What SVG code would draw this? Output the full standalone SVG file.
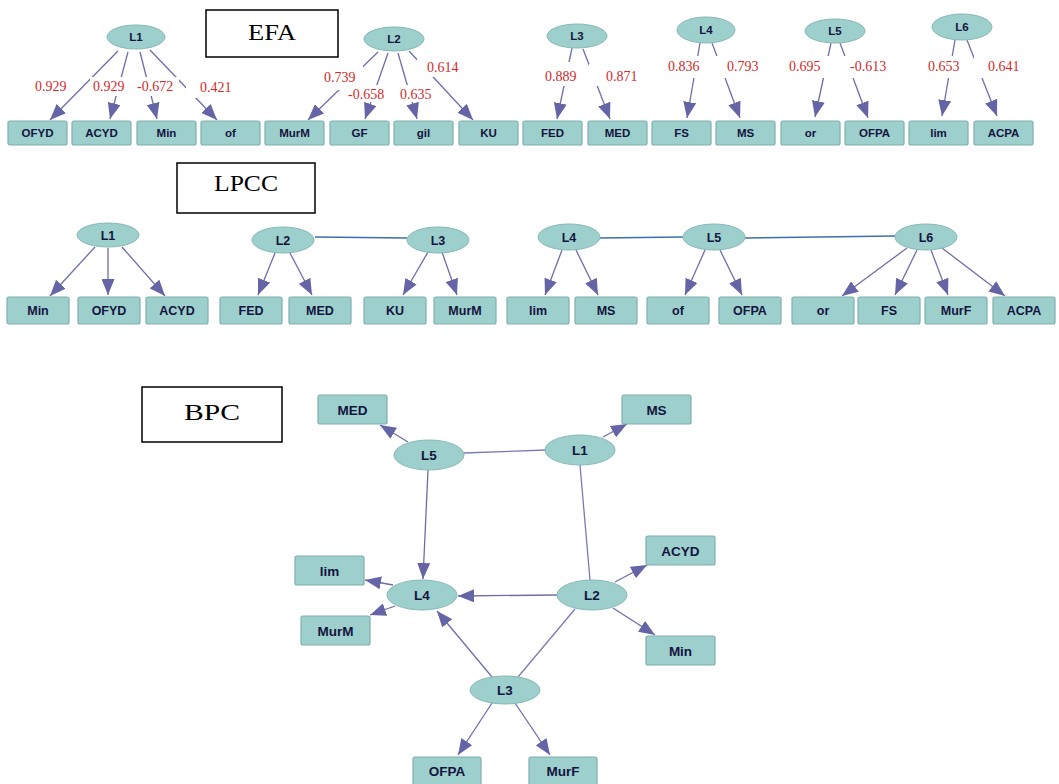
<svg xmlns="http://www.w3.org/2000/svg" width="1059" height="784" viewBox="0 0 1059 784">
  <style>
    .box { fill: #9dcfcd; stroke: #7fb0ae; stroke-width: 1.2; }
    .lat { fill: #9dcfcd; stroke: #86b8b6; stroke-width: 1; }
    .nt { font-family: "Liberation Sans", Arial, sans-serif; font-weight: bold; fill: #141440; text-anchor: middle; }
    .s1 { font-size: 11.5px; }
    .s2 { font-size: 12.5px; }
    .s3 { font-size: 13.5px; }
    .edge { stroke: #6e6eaa; stroke-width: 1.3; fill: none; marker-end: url(#ah); }
    .link { stroke: #7a7ab4; stroke-width: 1.3; fill: none; }
    .blue { stroke: #3d6db3; stroke-width: 1.5; fill: none; }
    .lab { font-family: "Liberation Serif", "Times New Roman", serif; font-size: 14px; fill: #d42a2a; }
    .labbg { fill: #ffffff; }
    .tbox { fill: #ffffff; stroke: #000000; stroke-width: 1.5; }
    .title { font-family: "Liberation Serif", "Times New Roman", serif; font-size: 23px; fill: #000000; text-anchor: middle; }
  </style>
  <defs>
    <marker id="ah" markerUnits="userSpaceOnUse" markerWidth="17" markerHeight="13" refX="16" refY="6.5" orient="auto">
      <path d="M0,0 L16,6.5 L0,13 Z" fill="#6464a6"/>
    </marker>
  </defs>

  <rect width="1059" height="784" fill="#ffffff"/>

  <!-- section titles -->
  <g id="title-efa"><rect class="tbox" x="206" y="10" width="132" height="47"/><text class="title" x="272" y="40" textLength="48" lengthAdjust="spacingAndGlyphs">EFA</text></g>
  <g id="title-lpcc"><rect class="tbox" x="177" y="163" width="138" height="50"/><text class="title" x="246" y="191" textLength="64" lengthAdjust="spacingAndGlyphs">LPCC</text></g>
  <g id="title-bpc"><rect class="tbox" x="142" y="387" width="140" height="55"/><text class="title" x="212" y="420" textLength="56" lengthAdjust="spacingAndGlyphs">BPC</text></g>

  <!-- ===== EFA connectors ===== -->
  <g id="efa-edges">
    <line class="edge" x1="118" y1="51" x2="50" y2="120"/>
    <line class="edge" x1="128" y1="52" x2="110" y2="119"/>
    <line class="edge" x1="140" y1="52" x2="157" y2="119"/>
    <line class="edge" x1="150" y1="50" x2="217" y2="120"/>
    <line class="edge" x1="378" y1="52" x2="308" y2="120"/>
    <line class="edge" x1="388" y1="53" x2="365" y2="119"/>
    <line class="edge" x1="398" y1="53" x2="417" y2="119"/>
    <line class="edge" x1="409" y1="51" x2="473" y2="120"/>
    <line class="edge" x1="572" y1="48" x2="557" y2="119"/>
    <line class="edge" x1="583" y1="49" x2="610" y2="119"/>
    <line class="edge" x1="700" y1="43" x2="687" y2="118"/>
    <line class="edge" x1="712" y1="43" x2="740" y2="118"/>
    <line class="edge" x1="831" y1="43" x2="815" y2="117"/>
    <line class="edge" x1="840" y1="43" x2="868" y2="118"/>
    <line class="edge" x1="955" y1="40" x2="942" y2="116"/>
    <line class="edge" x1="967" y1="40" x2="997" y2="116"/>
  </g>

  <!-- EFA loadings -->
  <g id="efa-labels">
    <rect class="labbg" x="32" y="77" width="39" height="19"/><text class="lab" x="35" y="91">0.929</text>
    <rect class="labbg" x="90" y="77" width="39" height="19"/><text class="lab" x="93" y="91">0.929</text>
    <rect class="labbg" x="134" y="77" width="45" height="19"/><text class="lab" x="137" y="91">-0.672</text>
    <rect class="labbg" x="186" y="80" width="50" height="18"/><text class="lab" x="200" y="92">0.421</text>
    <rect class="labbg" x="321" y="66" width="42" height="24"/><text class="lab" x="324" y="82">0.739</text>
    <rect class="labbg" x="345" y="85" width="45" height="17"/><text class="lab" x="348" y="99">-0.658</text>
    <rect class="labbg" x="397" y="85" width="41" height="17"/><text class="lab" x="400" y="99">0.635</text>
    <rect class="labbg" x="417" y="57" width="48" height="20"/><text class="lab" x="427" y="72">0.614</text>
    <rect class="labbg" x="542" y="62" width="41" height="24"/><text class="lab" x="545" y="81">0.889</text>
    <rect class="labbg" x="589" y="64" width="54" height="22"/><text class="lab" x="606" y="81">0.871</text>
    <rect class="labbg" x="665" y="56" width="41" height="22"/><text class="lab" x="668" y="71">0.836</text>
    <rect class="labbg" x="715" y="56" width="49" height="22"/><text class="lab" x="727" y="71">0.793</text>
    <rect class="labbg" x="786" y="56" width="45" height="22"/><text class="lab" x="789" y="71">0.695</text>
    <rect class="labbg" x="842" y="56" width="50" height="22"/><text class="lab" x="850" y="71">-0.613</text>
    <rect class="labbg" x="925" y="56" width="41" height="22"/><text class="lab" x="928" y="71">0.653</text>
    <rect class="labbg" x="974" y="56" width="51" height="22"/><text class="lab" x="988" y="71">0.641</text>
  </g>

  <!-- EFA latent factors -->
  <g id="efa-L1"><ellipse class="lat" cx="136" cy="37" rx="29" ry="12"/><text class="nt s1" x="136" y="41">L1</text></g>
  <g id="efa-L2"><ellipse class="lat" cx="394" cy="39" rx="30" ry="12"/><text class="nt s1" x="394" y="43">L2</text></g>
  <g id="efa-L3"><ellipse class="lat" cx="577" cy="36" rx="30" ry="12"/><text class="nt s1" x="577" y="40">L3</text></g>
  <g id="efa-L4"><ellipse class="lat" cx="706" cy="30" rx="29" ry="13"/><text class="nt s1" x="706" y="34">L4</text></g>
  <g id="efa-L5"><ellipse class="lat" cx="835" cy="31" rx="30" ry="12"/><text class="nt s1" x="835" y="35">L5</text></g>
  <g id="efa-L6"><ellipse class="lat" cx="962" cy="27" rx="30" ry="13"/><text class="nt s1" x="962" y="31">L6</text></g>

  <!-- EFA indicators -->
  <g id="efa-OFYD"><rect class="box" x="8" y="121" width="59" height="24" rx="2"/><text class="nt s1" x="37.5" y="137">OFYD</text></g>
  <g id="efa-ACYD"><rect class="box" x="72" y="121" width="59" height="24" rx="2"/><text class="nt s1" x="101.5" y="137">ACYD</text></g>
  <g id="efa-Min"><rect class="box" x="137" y="121" width="59" height="24" rx="2"/><text class="nt s1" x="166.5" y="137">Min</text></g>
  <g id="efa-of"><rect class="box" x="201" y="121" width="59" height="24" rx="2"/><text class="nt s1" x="230.5" y="137">of</text></g>
  <g id="efa-MurM"><rect class="box" x="265" y="121" width="59" height="24" rx="2"/><text class="nt s1" x="294.5" y="137">MurM</text></g>
  <g id="efa-GF"><rect class="box" x="330" y="121" width="59" height="24" rx="2"/><text class="nt s1" x="359.5" y="137">GF</text></g>
  <g id="efa-gil"><rect class="box" x="394" y="121" width="59" height="24" rx="2"/><text class="nt s1" x="423.5" y="137">gil</text></g>
  <g id="efa-KU"><rect class="box" x="459" y="121" width="59" height="24" rx="2"/><text class="nt s1" x="488.5" y="137">KU</text></g>
  <g id="efa-FED"><rect class="box" x="523" y="121" width="59" height="24" rx="2"/><text class="nt s1" x="552.5" y="137">FED</text></g>
  <g id="efa-MED"><rect class="box" x="588" y="121" width="59" height="24" rx="2"/><text class="nt s1" x="617.5" y="137">MED</text></g>
  <g id="efa-FS"><rect class="box" x="652" y="121" width="59" height="24" rx="2"/><text class="nt s1" x="681.5" y="137">FS</text></g>
  <g id="efa-MS"><rect class="box" x="716" y="121" width="59" height="24" rx="2"/><text class="nt s1" x="745.5" y="137">MS</text></g>
  <g id="efa-or"><rect class="box" x="781" y="121" width="59" height="24" rx="2"/><text class="nt s1" x="810.5" y="137">or</text></g>
  <g id="efa-OFPA"><rect class="box" x="845" y="121" width="59" height="24" rx="2"/><text class="nt s1" x="874.5" y="137">OFPA</text></g>
  <g id="efa-lim"><rect class="box" x="909" y="121" width="59" height="24" rx="2"/><text class="nt s1" x="938.5" y="137">lim</text></g>
  <g id="efa-ACPA"><rect class="box" x="974" y="121" width="59" height="24" rx="2"/><text class="nt s1" x="1003.5" y="137">ACPA</text></g>

  <!-- ===== LPCC connectors ===== -->
  <g id="lpcc-edges">
    <line class="blue" x1="315" y1="237" x2="407" y2="238"/>
    <line class="blue" x1="600" y1="238" x2="683" y2="237"/>
    <line class="blue" x1="745" y1="238" x2="895" y2="236"/>
    <line class="edge" x1="95" y1="247" x2="50" y2="296"/>
    <line class="edge" x1="108" y1="248" x2="108" y2="295"/>
    <line class="edge" x1="122" y1="247" x2="165" y2="296"/>
    <line class="edge" x1="275" y1="253" x2="258" y2="295"/>
    <line class="edge" x1="290" y1="253" x2="312" y2="295"/>
    <line class="edge" x1="428" y1="252" x2="403" y2="295"/>
    <line class="edge" x1="442" y1="252" x2="457" y2="295"/>
    <line class="edge" x1="562" y1="250" x2="545" y2="295"/>
    <line class="edge" x1="576" y1="250" x2="598" y2="295"/>
    <line class="edge" x1="705" y1="250" x2="685" y2="295"/>
    <line class="edge" x1="720" y1="250" x2="742" y2="295"/>
    <line class="edge" x1="907" y1="248" x2="842" y2="296"/>
    <line class="edge" x1="917" y1="250" x2="895" y2="295"/>
    <line class="edge" x1="931" y1="250" x2="948" y2="295"/>
    <line class="edge" x1="942" y1="248" x2="1005" y2="296"/>
  </g>

  <!-- LPCC latent factors -->
  <g id="lpcc-L1"><ellipse class="lat" cx="108" cy="235" rx="31" ry="12"/><text class="nt s2" x="108" y="239.5">L1</text></g>
  <g id="lpcc-L2"><ellipse class="lat" cx="283" cy="240" rx="31" ry="13"/><text class="nt s2" x="283" y="244.5">L2</text></g>
  <g id="lpcc-L3"><ellipse class="lat" cx="438" cy="240" rx="31" ry="13"/><text class="nt s2" x="438" y="244.5">L3</text></g>
  <g id="lpcc-L4"><ellipse class="lat" cx="569" cy="237" rx="31" ry="13"/><text class="nt s2" x="569" y="241.5">L4</text></g>
  <g id="lpcc-L5"><ellipse class="lat" cx="714" cy="237" rx="31" ry="13"/><text class="nt s2" x="714" y="241.5">L5</text></g>
  <g id="lpcc-L6"><ellipse class="lat" cx="926" cy="237" rx="31" ry="13"/><text class="nt s2" x="926" y="241.5">L6</text></g>

  <!-- LPCC indicators -->
  <g id="lpcc-Min"><rect class="box" x="7" y="297" width="62" height="27" rx="2"/><text class="nt s2" x="38" y="315">Min</text></g>
  <g id="lpcc-OFYD"><rect class="box" x="78" y="297" width="62" height="27" rx="2"/><text class="nt s2" x="109" y="315">OFYD</text></g>
  <g id="lpcc-ACYD"><rect class="box" x="146" y="297" width="62" height="27" rx="2"/><text class="nt s2" x="177" y="315">ACYD</text></g>
  <g id="lpcc-FED"><rect class="box" x="220" y="297" width="62" height="27" rx="2"/><text class="nt s2" x="251" y="315">FED</text></g>
  <g id="lpcc-MED"><rect class="box" x="289" y="297" width="62" height="27" rx="2"/><text class="nt s2" x="320" y="315">MED</text></g>
  <g id="lpcc-KU"><rect class="box" x="364" y="297" width="62" height="27" rx="2"/><text class="nt s2" x="395" y="315">KU</text></g>
  <g id="lpcc-MurM"><rect class="box" x="434" y="297" width="62" height="27" rx="2"/><text class="nt s2" x="465" y="315">MurM</text></g>
  <g id="lpcc-lim"><rect class="box" x="507" y="297" width="62" height="27" rx="2"/><text class="nt s2" x="538" y="315">lim</text></g>
  <g id="lpcc-MS"><rect class="box" x="575" y="297" width="62" height="27" rx="2"/><text class="nt s2" x="606" y="315">MS</text></g>
  <g id="lpcc-of"><rect class="box" x="647" y="297" width="62" height="27" rx="2"/><text class="nt s2" x="678" y="315">of</text></g>
  <g id="lpcc-OFPA"><rect class="box" x="719" y="297" width="62" height="27" rx="2"/><text class="nt s2" x="750" y="315">OFPA</text></g>
  <g id="lpcc-or"><rect class="box" x="792" y="297" width="62" height="27" rx="2"/><text class="nt s2" x="823" y="315">or</text></g>
  <g id="lpcc-FS"><rect class="box" x="858" y="297" width="62" height="27" rx="2"/><text class="nt s2" x="889" y="315">FS</text></g>
  <g id="lpcc-MurF"><rect class="box" x="925" y="297" width="62" height="27" rx="2"/><text class="nt s2" x="956" y="315">MurF</text></g>
  <g id="lpcc-ACPA"><rect class="box" x="993" y="297" width="62" height="27" rx="2"/><text class="nt s2" x="1024" y="315">ACPA</text></g>

  <!-- ===== BPC connectors ===== -->
  <g id="bpc-edges">
    <line class="link" x1="464" y1="453" x2="546" y2="450"/>
    <line class="link" x1="580" y1="465" x2="590" y2="580"/>
    <line class="link" x1="575" y1="609" x2="518" y2="677"/>
    <line class="edge" x1="408" y1="442" x2="380" y2="425"/>
    <line class="edge" x1="603" y1="437" x2="627" y2="424"/>
    <line class="edge" x1="428" y1="470" x2="423" y2="579"/>
    <line class="edge" x1="557" y1="595" x2="458" y2="596"/>
    <line class="edge" x1="393" y1="585" x2="365" y2="580"/>
    <line class="edge" x1="395" y1="606" x2="370" y2="615"/>
    <line class="edge" x1="615" y1="582" x2="647" y2="565"/>
    <line class="edge" x1="613" y1="608" x2="655" y2="635"/>
    <line class="edge" x1="492" y1="677" x2="437" y2="611"/>
    <line class="edge" x1="492" y1="703" x2="458" y2="755"/>
    <line class="edge" x1="515" y1="703" x2="550" y2="755"/>
  </g>

  <!-- BPC latent factors -->
  <g id="bpc-L5"><ellipse class="lat" cx="429" cy="455" rx="35" ry="15"/><text class="nt s3" x="429" y="460">L5</text></g>
  <g id="bpc-L1"><ellipse class="lat" cx="580" cy="450" rx="35" ry="15"/><text class="nt s3" x="580" y="455">L1</text></g>
  <g id="bpc-L4"><ellipse class="lat" cx="422" cy="595" rx="35" ry="15"/><text class="nt s3" x="422" y="600">L4</text></g>
  <g id="bpc-L2"><ellipse class="lat" cx="592" cy="595" rx="35" ry="15"/><text class="nt s3" x="592" y="600">L2</text></g>
  <g id="bpc-L3"><ellipse class="lat" cx="505" cy="690" rx="35" ry="14"/><text class="nt s3" x="505" y="695">L3</text></g>

  <!-- BPC indicators -->
  <g id="bpc-MED"><rect class="box" x="318" y="395" width="69" height="29" rx="2"/><text class="nt s3" x="352.5" y="414.5">MED</text></g>
  <g id="bpc-MS"><rect class="box" x="622" y="395" width="69" height="29" rx="2"/><text class="nt s3" x="656.5" y="414.5">MS</text></g>
  <g id="bpc-lim"><rect class="box" x="295" y="556" width="69" height="29" rx="2"/><text class="nt s3" x="329.5" y="575.5">lim</text></g>
  <g id="bpc-MurM"><rect class="box" x="301" y="616" width="69" height="29" rx="2"/><text class="nt s3" x="335.5" y="635.5">MurM</text></g>
  <g id="bpc-ACYD"><rect class="box" x="646" y="536" width="69" height="29" rx="2"/><text class="nt s3" x="680.5" y="555.5">ACYD</text></g>
  <g id="bpc-Min"><rect class="box" x="646" y="636" width="69" height="29" rx="2"/><text class="nt s3" x="680.5" y="655.5">Min</text></g>
  <g id="bpc-OFPA"><rect class="box" x="413" y="757" width="68" height="29" rx="2"/><text class="nt s3" x="447" y="776">OFPA</text></g>
  <g id="bpc-MurF"><rect class="box" x="529" y="757" width="68" height="29" rx="2"/><text class="nt s3" x="563" y="776">MurF</text></g>
</svg>
